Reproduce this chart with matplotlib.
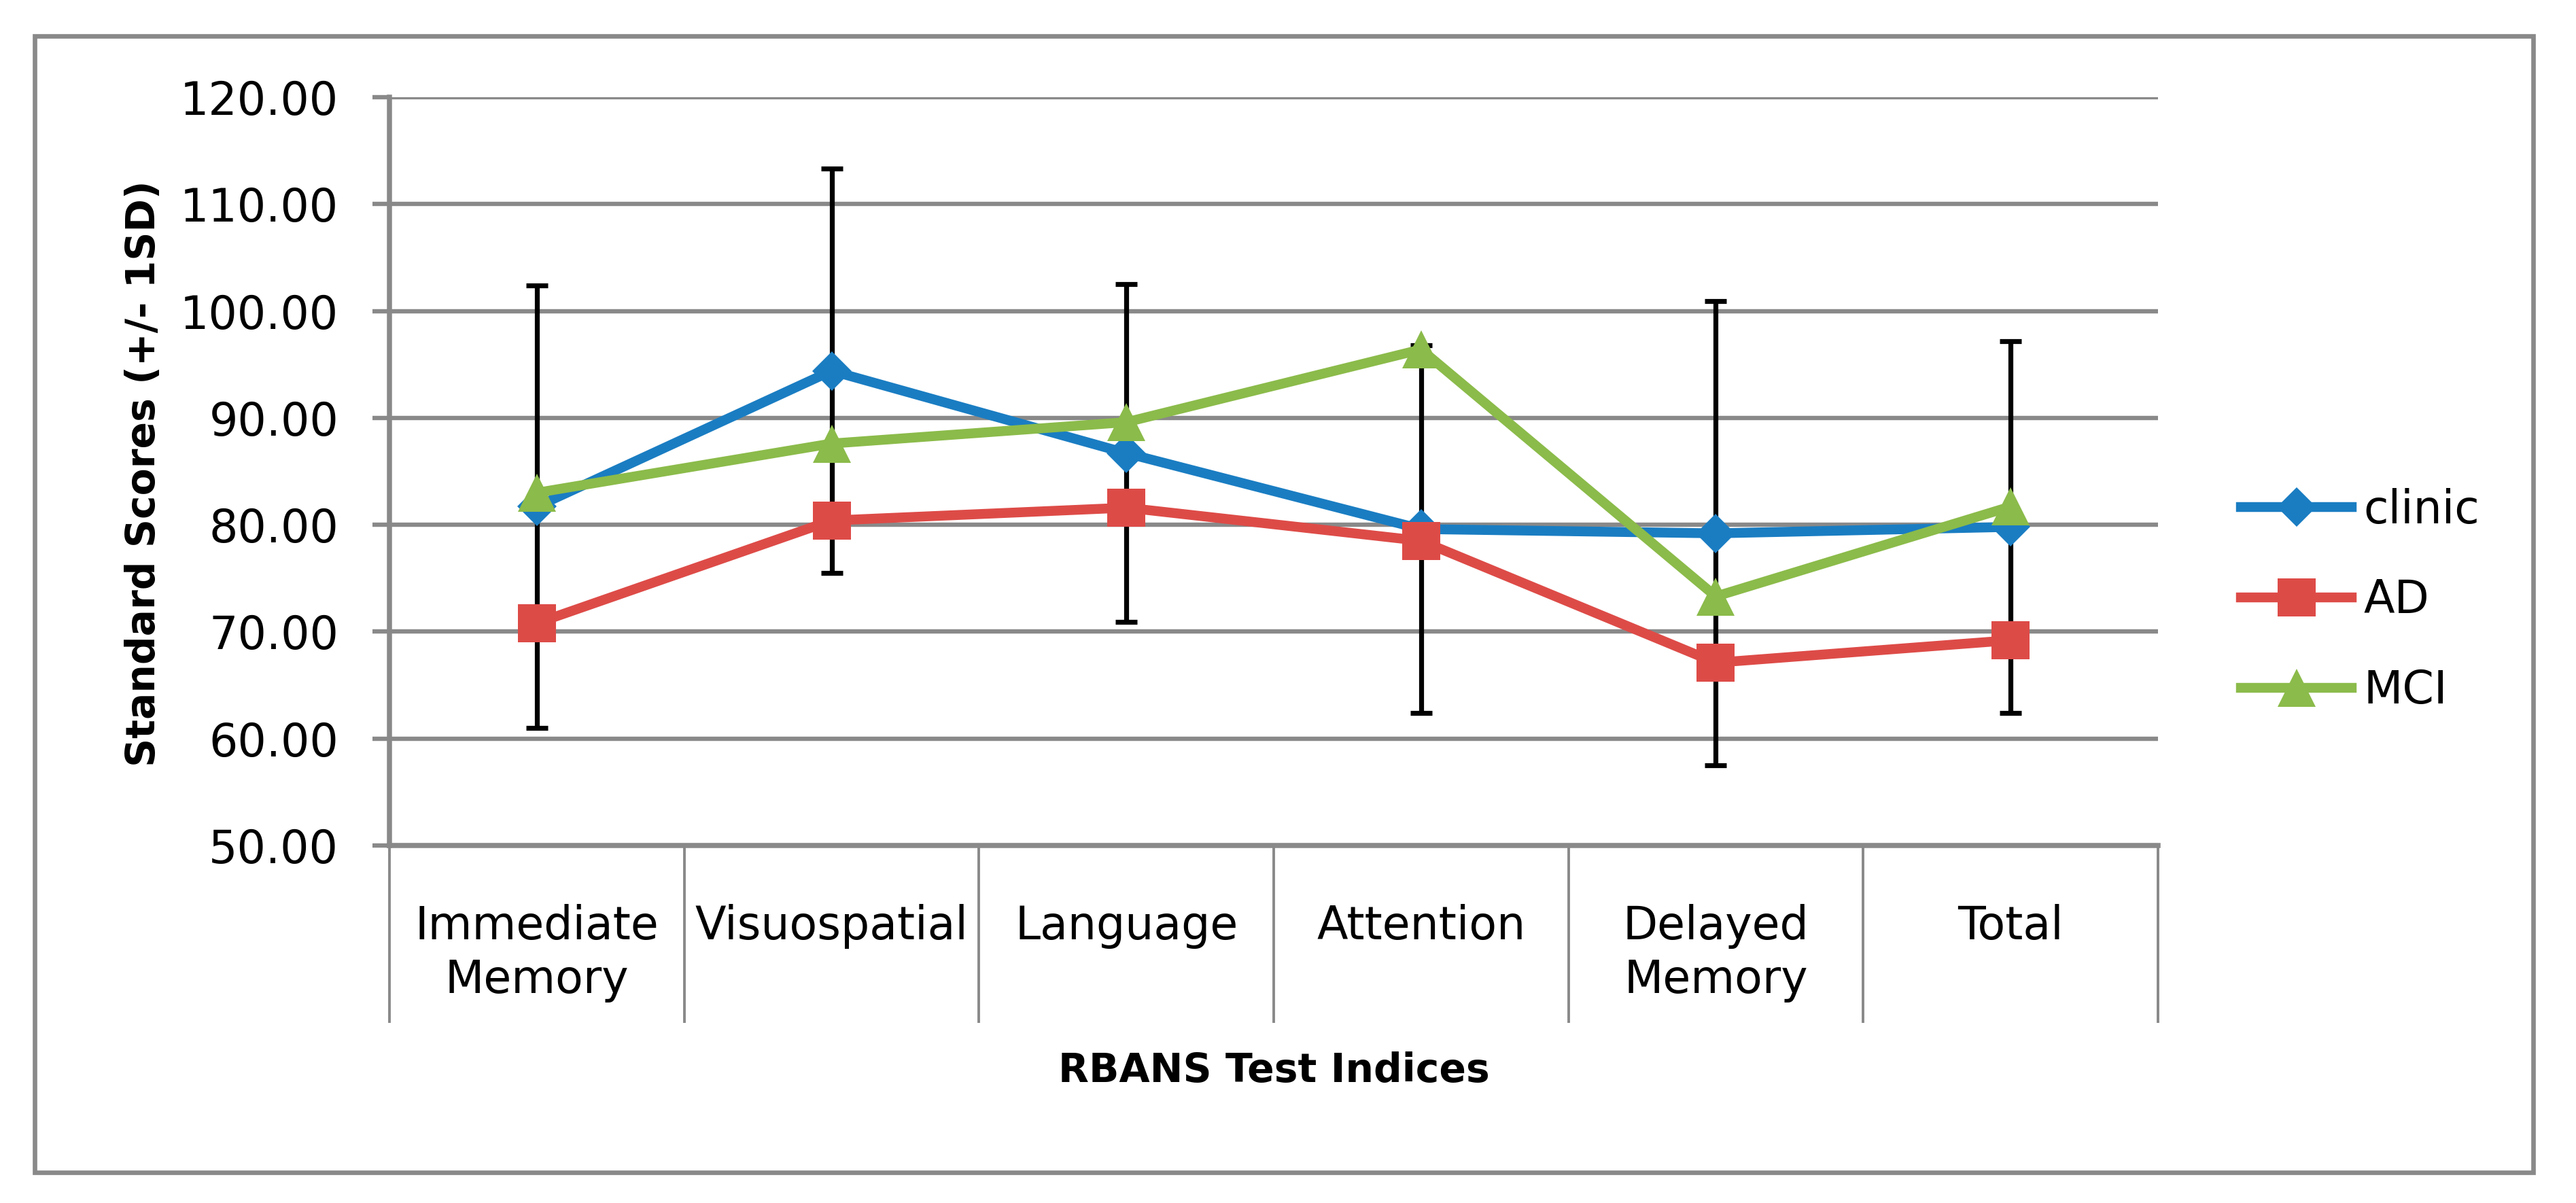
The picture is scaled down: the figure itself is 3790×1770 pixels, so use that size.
import matplotlib
matplotlib.use("Agg")
import matplotlib.pyplot as plt
import numpy as np
from matplotlib.patches import Rectangle

categories = ["Immediate\nMemory", "Visuospatial", "Language", "Attention", "Delayed\nMemory", "Total"]
clinic = [81.7, 94.4, 86.7, 79.6, 79.2, 79.8]
ad = [70.8, 80.4, 81.6, 78.5, 67.1, 69.2]
mci = [83.0, 87.6, 89.6, 96.4, 73.3, 81.7]
clinic_sd = [20.7, 18.9, 15.8, 17.2, 21.7, 17.4]

GRAY = "#898989"
x = np.arange(len(categories))

fig = plt.figure(figsize=(18.95, 8.85), dpi=200)
ax = fig.add_axes([0.1512, 0.2972, 0.6865, 0.622])

# outer frame round the chart
fig.patches.append(Rectangle((51 / 3790, 1 - 1725 / 1770), (3727 - 51) / 3790, (1725 - 53) / 1770,
                             fill=False, edgecolor=GRAY, lw=2.4, transform=fig.transFigure))

ax.errorbar(x, clinic, yerr=clinic_sd, fmt="none", ecolor="black", elinewidth=2.6,
            capsize=5.7, capthick=2.6, zorder=3)
ax.plot(x, clinic, color="#1a7dc2", lw=5.2, marker="D", ms=15, mew=0, label="clinic", zorder=4)
ax.plot(x, ad, color="#dd4b47", lw=5.2, marker="s", ms=20, mew=0, label="AD", zorder=5)
ax.plot(x, mci, color="#8bbb4a", lw=5.2, marker="^", ms=20, mew=0, label="MCI", zorder=6)

ax.set_xlim(-0.5, len(categories) - 0.5)
ax.set_ylim(50, 120)
ax.set_yticks(np.arange(50, 121, 10))
ax.set_yticklabels([f"{v:.2f}" for v in np.arange(50, 121, 10)])
ax.yaxis.grid(True, color=GRAY, lw=2.3)
ax.set_axisbelow(True)

ax.set_xticks(x)
ax.set_xticklabels(categories, fontsize=24, linespacing=1.25)
ax.set_xticks(np.arange(-0.5, len(categories), 1), minor=True)
ax.tick_params(axis="x", which="major", length=0, pad=31)
ax.tick_params(axis="x", which="minor", length=94, width=1.4, color=GRAY)
ax.tick_params(axis="y", length=9, width=2.3, color=GRAY, labelsize=24, pad=18)

for side in ["top", "right"]:
    ax.spines[side].set_visible(False)
for side in ["left", "bottom"]:
    ax.spines[side].set_color(GRAY)
    ax.spines[side].set_linewidth(2.7)

ax.set_xlabel("RBANS Test Indices", fontsize=21, fontweight="bold", va="center")
ax.xaxis.set_label_coords(0.5, -0.3007)
ax.set_ylabel("Standard Scores (+/- 1SD)", fontsize=21, fontweight="bold", va="center")
ax.yaxis.set_label_coords(-0.139, 0.497)

fig.legend(loc="center left", bbox_to_anchor=(3297 / 3790, 0.501), frameon=False, fontsize=24,
           handlelength=2.45, handletextpad=0.25, labelspacing=1.0, borderpad=0, borderaxespad=0)

fig.savefig("out.png", dpi=200)
